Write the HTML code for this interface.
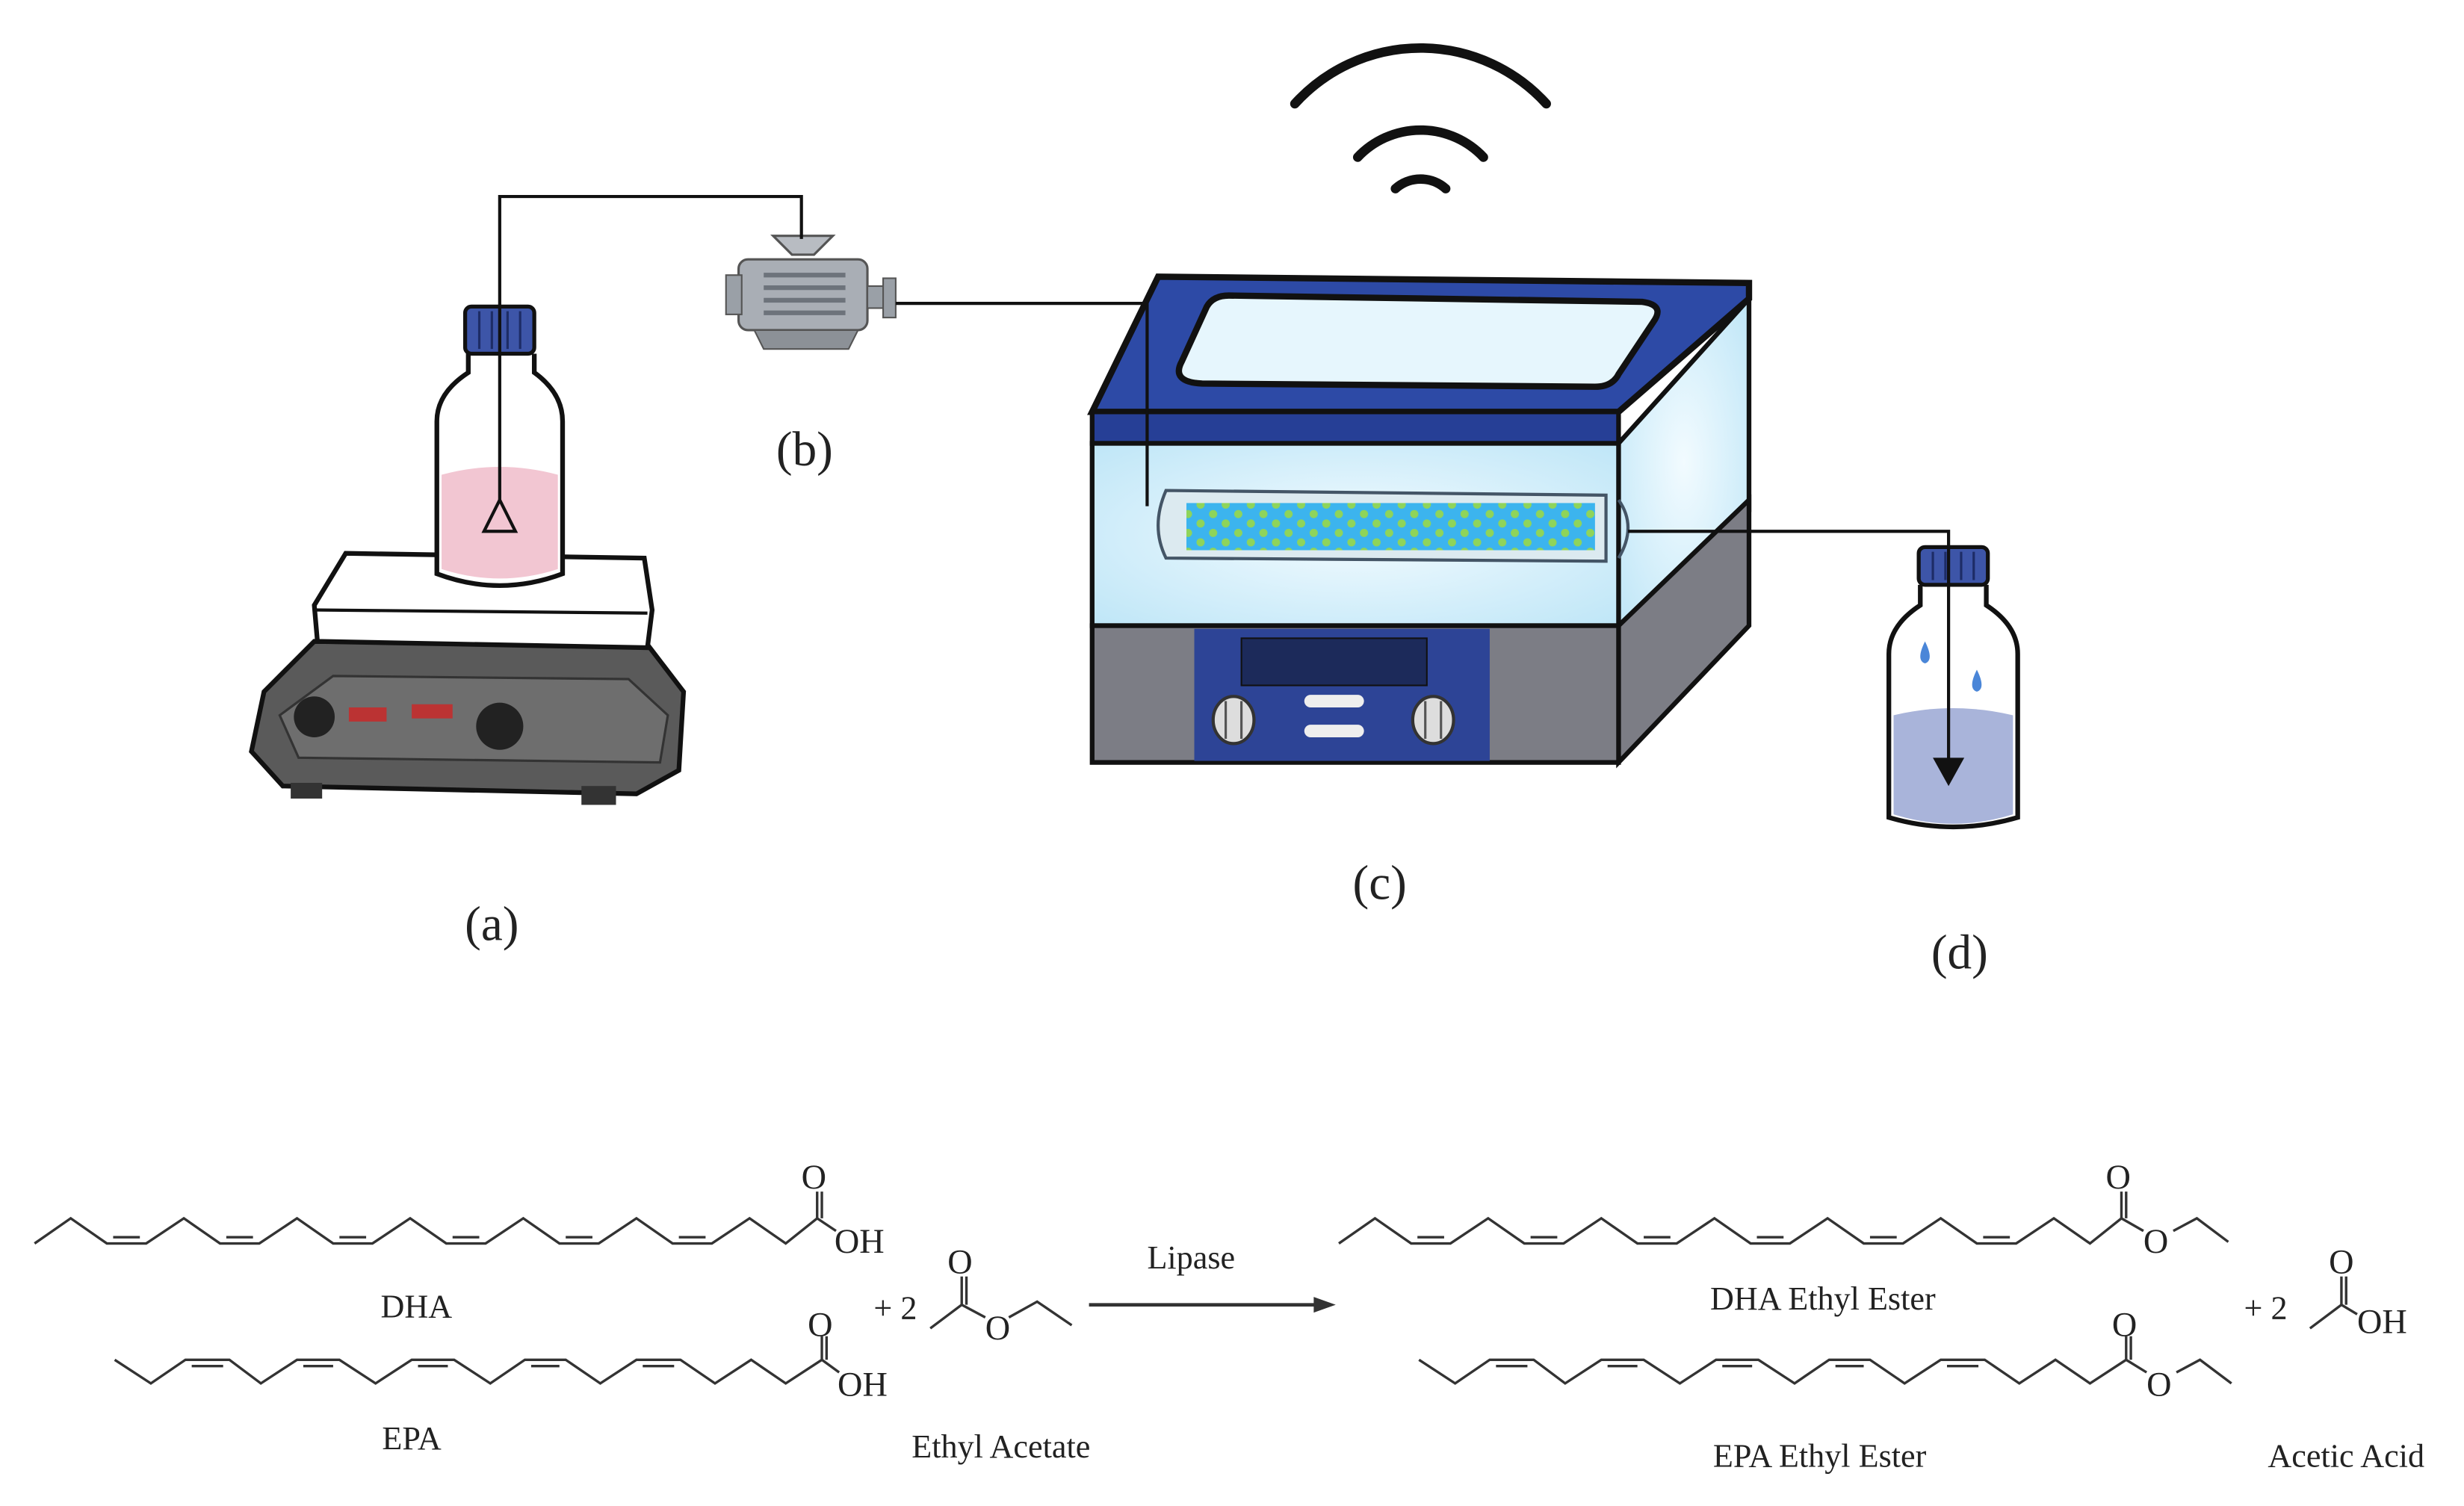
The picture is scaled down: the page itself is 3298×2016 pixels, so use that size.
<!DOCTYPE html>
<html><head><meta charset="utf-8"><style>
html,body{margin:0;padding:0;background:#fff;}
svg{display:block;}
text{font-family:"Liberation Serif",serif;fill:#222;}
</style></head><body>
<svg width="3298" height="2016" viewBox="0 0 1568 958" preserveAspectRatio="none" xmlns="http://www.w3.org/2000/svg">
<rect width="1568" height="958" fill="#fff"/>
<defs>
<pattern id="dots" width="16" height="12" patternUnits="userSpaceOnUse">
<rect width="16" height="12" fill="#3cb4ee"/>
<circle cx="4" cy="3" r="2.6" fill="#8fd45a"/>
<circle cx="12" cy="9" r="2.6" fill="#8fd45a"/>
</pattern>
<radialGradient id="glass" cx="50%" cy="50%" r="70%">
<stop offset="0" stop-color="#f2fbff"/><stop offset="1" stop-color="#bfe6f7"/>
</radialGradient>
</defs>

<!-- wifi -->
<g fill="none" stroke="#111" stroke-width="6" stroke-linecap="round">
<path d="M888 120 A24 24 0 0 1 920 120"/>
<path d="M864 100 A55 55 0 0 1 944 100"/>
<path d="M824 66 A108 108 0 0 1 984 66"/>
</g>

<!-- hot plate -->
<path d="M168 440 L200 408 L412 410 L435 440 L432 490 L405 505 L180 500 L160 478 Z" fill="#5a5a5a" stroke="#111" stroke-width="3"/>
<path d="M178 455 L212 430 L400 432 L425 455 L420 485 L190 482 Z" fill="#6e6e6e" stroke="#333" stroke-width="1.5"/>
<path d="M200 385 L220 352 L410 355 L415 388 L412 412 L202 408 Z" fill="#fff" stroke="#111" stroke-width="3"/>
<path d="M200 388 L412 390" stroke="#111" stroke-width="2"/>
<rect x="185" y="498" width="20" height="10" fill="#333"/><rect x="370" y="500" width="22" height="12" fill="#333"/>
<circle cx="200" cy="456" r="13" fill="#222"/><circle cx="318" cy="462" r="15" fill="#222"/>
<rect x="222" y="450" width="24" height="9" fill="#b33" /><rect x="262" y="448" width="26" height="9" fill="#b33"/>

<!-- bottle a -->
<path d="M298 225 V237 Q278 250 278 268 V365 Q318 380 358 365 V268 Q358 250 340 237 V225" fill="#fff" stroke="#111" stroke-width="3"/>
<path d="M281 302 Q318 292 355 302 V362 Q318 374 281 362 Z" fill="#f2c6d2"/>
<rect x="296" y="195" width="44" height="30" rx="4" fill="#3d55a8" stroke="#111" stroke-width="2.5"/>
<g stroke="#1d2c66" stroke-width="1.5"><path d="M305 198V222M313 198V222M323 198V222M331 198V222"/></g>
<path d="M318 318 L308 338 H328 Z" fill="none" stroke="#111" stroke-width="2"/>

<!-- pump b -->
<path d="M492 150 H530 L518 162 H504 Z" fill="#b8bcc2" stroke="#555" stroke-width="1.5"/>
<rect x="470" y="165" width="82" height="45" rx="6" fill="#a9aeb5" stroke="#555" stroke-width="1.5"/>
<g stroke="#6d737b" stroke-width="3"><path d="M486 175H538M486 183H538M486 191H538M486 199H538"/></g>
<rect x="462" y="175" width="10" height="25" fill="#9aa0a7" stroke="#555"/>
<rect x="552" y="182" width="14" height="14" fill="#9aa0a7" stroke="#555"/>
<rect x="562" y="177" width="8" height="25" fill="#9aa0a7" stroke="#555"/>
<path d="M480 210 H546 L540 222 H486 Z" fill="#8c9197" stroke="#555"/>

<!-- water bath -->
<polygon points="1030,282 1113,190 1113,325 1030,398" fill="url(#glass)" stroke="#111" stroke-width="3"/>
<polygon points="1030,398 1113,318 1113,398 1030,485" fill="#7c7d85" stroke="#111" stroke-width="3"/>
<rect x="695" y="282" width="335" height="116" fill="url(#glass)" stroke="#111" stroke-width="3"/>
<polygon points="695,262 737,176 1113,180 1113,190 1030,262" fill="#2d4aa6" stroke="#111" stroke-width="4"/>
<path d="M768 195 Q772 188 782 188 L1045 192 Q1060 194 1052 205 L1030 238 Q1026 246 1015 246 L765 244 Q745 243 752 230 Z" fill="#e6f6fd" stroke="#111" stroke-width="4"/>
<rect x="695" y="262" width="335" height="20" fill="#263f96" stroke="#111" stroke-width="3"/>
<rect x="695" y="398" width="335" height="87" fill="#7c7d85" stroke="#111" stroke-width="3"/>
<rect x="760" y="400" width="188" height="84" fill="#2d4496"/>
<rect x="790" y="406" width="118" height="30" fill="#1c2a5a" stroke="#111"/>
<ellipse cx="785" cy="458" rx="13" ry="15" fill="#ddd" stroke="#333" stroke-width="2"/>
<ellipse cx="912" cy="458" rx="13" ry="15" fill="#ddd" stroke="#333" stroke-width="2"/>
<path d="M780 446V470M790 446V470M907 446V470M917 446V470" stroke="#555" stroke-width="1.5"/>
<rect x="830" y="442" width="38" height="8" rx="4" fill="#eee"/>
<rect x="830" y="461" width="38" height="8" rx="4" fill="#eee"/>
<!-- column -->
<path d="M742 312 L1022 315 V357 L742 355 Q732 335 742 312 Z" fill="#dceaf0" stroke="#456" stroke-width="2"/>
<rect x="755" y="320" width="260" height="30" fill="url(#dots)"/>
<path d="M1030 318 Q1042 335 1030 355" fill="none" stroke="#456" stroke-width="2"/>

<!-- bottle d -->
<path d="M1222 372 V385 Q1202 398 1202 416 V520 Q1243 532 1284 520 V416 Q1284 398 1264 385 V372" fill="#fff" stroke="#111" stroke-width="3"/>
<path d="M1205 455 Q1243 446 1281 455 V518 Q1243 530 1205 518 Z" fill="#a9b4da"/>
<rect x="1221" y="348" width="44" height="24" rx="4" fill="#3d55a8" stroke="#111" stroke-width="2.5"/>
<g stroke="#1d2c66" stroke-width="1.5"><path d="M1230 351V369M1238 351V369M1248 351V369M1256 351V369"/></g>
<path d="M1225 408 q-6 12 0 14 q6 -2 0 -14z" fill="#4a86d8"/>
<path d="M1258 426 q-6 12 0 14 q6 -2 0 -14z" fill="#4a86d8"/>

<!-- tubing (on top) -->
<g fill="none" stroke="#111" stroke-width="2">
<path d="M318 320 V125 H510 V152"/>
<path d="M570 193 H730 V322"/>
<path d="M1036 338 H1240 V490"/>
</g>
<polygon points="1230,482 1250,482 1240,500" fill="#111"/>

<!-- labels -->
<g font-size="31">
<text x="313" y="598" text-anchor="middle">(a)</text>
<text x="512" y="296" text-anchor="middle">(b)</text>
<text x="878" y="572" text-anchor="middle">(c)</text>
<text x="1247" y="616" text-anchor="middle">(d)</text>
</g>

<!-- chemistry -->
<g fill="none" stroke="#333" stroke-width="1.6">
<polyline points="22,791 45,775 68,791 93,791 117,775 140,791 165,791 189,775 212,791 237,791 261,775 284,791 309,791 333,775 356,791 381,791 405,775 428,791 453,791 477,775 500,791 520,775"/>
<path d="M72 787H89M144 787H161M216 787H233M288 787H305M360 787H377M432 787H449"/>
<path d="M520 775V758M523 775V758"/>
<line x1="520" y1="775" x2="532" y2="783"/>
<polyline points="73,865 96,880 118,865 146,865 166,880 189,865 216,865 239,880 262,865 289,865 312,880 334,865 360,865 382,880 405,865 433,865 455,880 478,865 500,880 523,865"/>
<path d="M122 869H142M193 869H212M266 869H285M338 869H356M409 869H429"/>
<path d="M523 865V850M526 865V850"/>
<line x1="523" y1="865" x2="534" y2="873"/>
</g>
<g font-size="22">
<text x="510" y="756">O</text><text x="531" y="797">OH</text>
<text x="514" y="850">O</text><text x="533" y="888">OH</text>
</g>
<g font-size="21">
<text x="265" y="838" text-anchor="middle">DHA</text>
<text x="262" y="922" text-anchor="middle">EPA</text>
<text x="637" y="927" text-anchor="middle">Ethyl Acetate</text>
<text x="758" y="807" text-anchor="middle">Lipase</text>
<text x="1160" y="833" text-anchor="middle">DHA Ethyl Ester</text>
<text x="1158" y="933" text-anchor="middle">EPA Ethyl Ester</text>
<text x="1493" y="933" text-anchor="middle">Acetic Acid</text>
<text x="556" y="839">+ 2</text>
<text x="1428" y="839">+ 2</text>
</g>
<g fill="none" stroke="#333" stroke-width="1.6">
<polyline points="592,845 612,830 627,838"/>
<polyline points="642,838 660,828 682,843"/>
<path d="M612 830V812M615 830V812"/>
<polyline points="1470,845 1490,830 1500,836"/>
<path d="M1490 830V812M1493 830V812"/>
<line x1="693" y1="830" x2="838" y2="830" stroke-width="2.2"/>
</g>
<polygon points="836,825 850,830 836,835" fill="#333"/>
<g font-size="22"><text x="603" y="810">O</text><text x="627" y="852">O</text>
<text x="1482" y="810">O</text><text x="1500" y="848">OH</text></g>

<!-- products -->
<g transform="translate(830,0)" fill="none" stroke="#333" stroke-width="1.6">
<polyline points="22,791 45,775 68,791 93,791 117,775 140,791 165,791 189,775 212,791 237,791 261,775 284,791 309,791 333,775 356,791 381,791 405,775 428,791 453,791 477,775 500,791 520,775 534,783"/>
<path d="M72 787H89M144 787H161M216 787H233M288 787H305M360 787H377M432 787H449"/>
<path d="M520 775V758M523 775V758"/>
<polyline points="553,783 568,775 588,790"/>
<polyline points="73,865 96,880 118,865 146,865 166,880 189,865 216,865 239,880 262,865 289,865 312,880 334,865 360,865 382,880 405,865 433,865 455,880 478,865 500,880 523,865 536,873"/>
<path d="M122 869H142M193 869H212M266 869H285M338 869H356M409 869H429"/>
<path d="M523 865V850M526 865V850"/>
<polyline points="555,873 570,865 590,880"/>
</g>
<g font-size="22">
<text x="1340" y="756">O</text><text x="1364" y="797">O</text>
<text x="1344" y="850">O</text><text x="1366" y="888">O</text>
</g>
</svg>
</body></html>
